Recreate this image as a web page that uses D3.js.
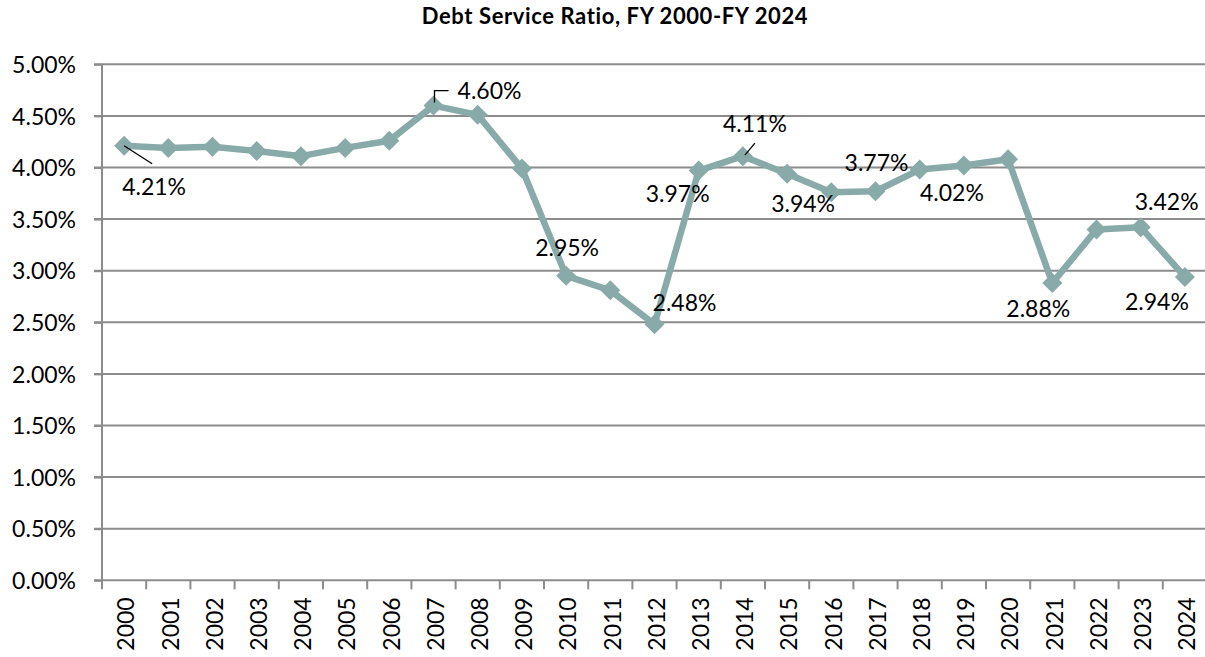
<!DOCTYPE html>
<html>
<head>
<meta charset="utf-8">
<script src="https://cdn.jsdelivr.net/npm/d3@7"></script>
<style>
  html, body { margin: 0; padding: 0; background: #fff; }
  svg { display: block; }
  text { font-family: Lato, "Open Sans", sans-serif; fill: #000; }
</style>
</head>
<body>
<svg id="chart" width="1205" height="657"></svg>
<script>
// ---- data ----
const title = "Debt Service Ratio, FY 2000-FY 2024";
const years = ["2000","2001","2002","2003","2004","2005","2006","2007","2008","2009","2010","2011","2012",
               "2013","2014","2015","2016","2017","2018","2019","2020","2021","2022","2023","2024"];
const ratios = [4.21, 4.19, 4.20, 4.16, 4.11, 4.19, 4.26, 4.60, 4.51, 3.99, 2.95, 2.81, 2.48,
                3.97, 4.11, 3.94, 3.76, 3.77, 3.98, 4.02, 4.08, 2.88, 3.40, 3.42, 2.94];
const labeledYears = ["2000","2007","2010","2012","2013","2014","2015","2017","2019","2021","2023","2024"];
const yTicks = [0, 0.5, 1, 1.5, 2, 2.5, 3, 3.5, 4, 4.5, 5];

// ---- layout (label placement, px offsets of label centre from the point) ----
const labelOffsets = {
  "2000": [30, 41], "2007": [56, -15], "2010": [1, -28], "2012": [30, -22],
  "2013": [-21, 23], "2014": [12, -32], "2015": [16, 30], "2017": [1, -29],
  "2019": [-12, 27], "2021": [-14, 26], "2023": [26, -26], "2024": [-28, 25]
};
const leaders = { "2000": true, "2007": true, "2014": true };

const svg = d3.select("#chart");
const pLeft = 102, pRight = 1207, pTop = 64.3, pBottom = 580.3;
const lineColor = "#88aba9";
const gridColor = "#8c8c8c";
const fontSize = 23;

const x = d3.scaleBand().domain(years).range([pLeft, pRight]).padding(0);
const y = d3.scaleLinear().domain([0, 5]).range([pBottom, pTop]);
const cx = d => x(d) + x.bandwidth() / 2;

// title
svg.append("text")
  .attr("x", 615).attr("y", 24)
  .attr("text-anchor", "middle")
  .attr("font-weight", "bold")
  .attr("font-size", 22)
  .attr("letter-spacing", 0.6)
  .text(title);

// gridlines
svg.append("g").selectAll("line").data(yTicks.filter(t => t > 0)).join("line")
  .attr("x1", pLeft - 8).attr("x2", pRight)
  .attr("y1", d => y(d)).attr("y2", d => y(d))
  .attr("stroke", gridColor).attr("stroke-width", 2);

// y axis
const yAxis = d3.axisLeft(y).tickValues(yTicks).tickFormat(d => d3.format(".2f")(d) + "%")
  .tickSize(8).tickPadding(18);
const gy = svg.append("g").attr("transform", `translate(${pLeft},0)`).call(yAxis);
gy.select(".domain").attr("stroke", gridColor).attr("stroke-width", 2)
  .attr("d", `M0,${pTop}V${pBottom + 9}`);
gy.selectAll(".tick line").attr("stroke", gridColor).attr("stroke-width", 2);
gy.selectAll(".tick text").attr("font-size", fontSize).attr("font-family", "Lato").attr("fill", "#000")
  .attr("dy", "0.36em");

// x axis
const xAxis = d3.axisBottom(x).tickSize(0).tickPadding(0);
const gx = svg.append("g").attr("transform", `translate(0,${pBottom})`).call(xAxis);
gx.select(".domain").attr("stroke", gridColor).attr("stroke-width", 2)
  .attr("d", `M${pLeft - 8},0H${pRight}`);
gx.selectAll(".tick text")
  .attr("font-size", fontSize).attr("font-family", "Lato").attr("fill", "#000")
  .attr("text-anchor", "end")
  .attr("transform", "translate(2,17) rotate(-90)")
  .attr("x", 0).attr("y", 0).attr("dy", "0.36em");
// category boundary ticks
svg.append("g").selectAll("line").data(years.slice(1)).join("line")
  .attr("x1", d => x(d)).attr("x2", d => x(d))
  .attr("y1", pBottom).attr("y2", pBottom + 9)
  .attr("stroke", gridColor).attr("stroke-width", 2);

// series line
const pts = years.map((yr, i) => ({ yr, v: ratios[i] }));
svg.append("path").datum(pts)
  .attr("fill", "none").attr("stroke", lineColor).attr("stroke-width", 6.5)
  .attr("stroke-linejoin", "round")
  .attr("d", d3.line().x(d => cx(d.yr)).y(d => y(d.v)));

// markers
svg.append("g").selectAll("path").data(pts).join("path")
  .attr("transform", d => `translate(${cx(d.yr)},${y(d.v)})`)
  .attr("d", "M0,-10L10,0L0,10L-10,0Z")
  .attr("fill", lineColor);

// leader lines
const lead = svg.append("g").attr("stroke", "#000").attr("stroke-width", 1.3).attr("fill", "none");
pts.filter(d => leaders[d.yr]).forEach(d => {
  const px = cx(d.yr), py = y(d.v);
  if (d.yr === "2000") lead.append("path").attr("d", `M${px},${py}L${px + 28},${py + 18}`);
  if (d.yr === "2007") lead.append("path").attr("d", `M${px + 1},${py - 3}V${py - 15}H${px + 15}`);
  if (d.yr === "2014") lead.append("path").attr("d", `M${px + 2},${py - 1}L${px + 12},${py - 13}`);
});

// data labels
svg.append("g").selectAll("text").data(pts.filter(d => labeledYears.includes(d.yr))).join("text")
  .attr("x", d => cx(d.yr) + labelOffsets[d.yr][0])
  .attr("y", d => y(d.v) + labelOffsets[d.yr][1])
  .attr("dy", "0.36em")
  .attr("text-anchor", "middle")
  .attr("font-size", fontSize)
  .text(d => d3.format(".2f")(d.v) + "%");
</script>
</body>
</html>
